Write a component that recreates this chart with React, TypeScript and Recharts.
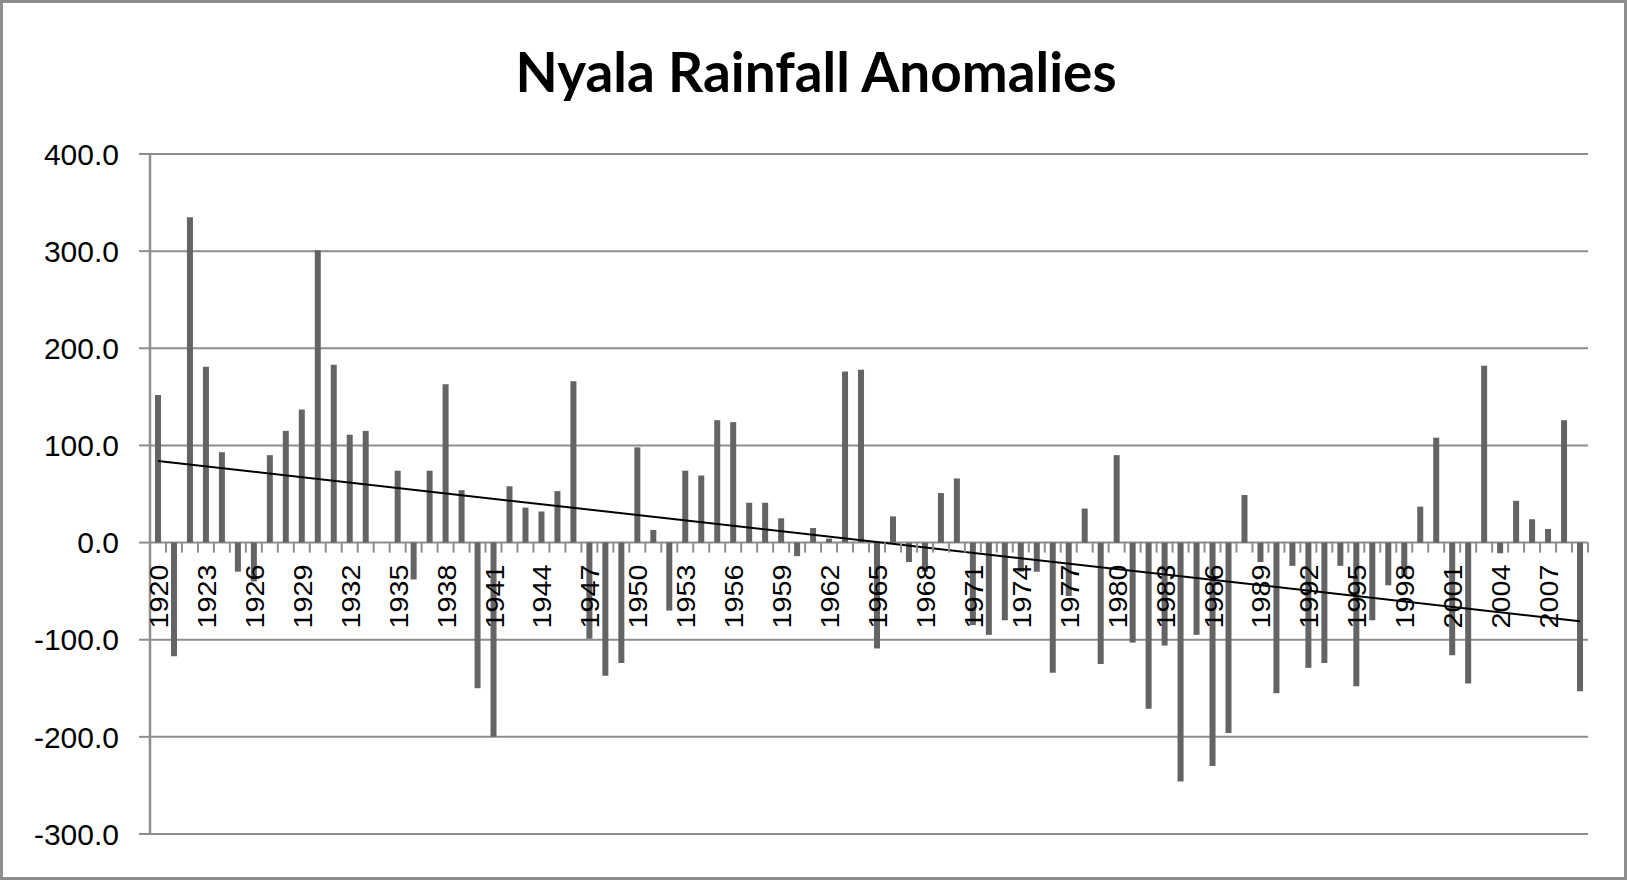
import { ComposedChart, Bar, Line, XAxis, YAxis, CartesianGrid, LabelList } from 'recharts';

// Years 1920..2009 (categories)
const years: string[] = Array.from({ length: 90 }, (_, i) => String(1920 + i));

// Rainfall anomaly per year
const anomalies: number[] = [
  152, -117, 335, 181, 93, -30, -40, 90, 115, 137,
  301, 183, 111, 115, 0, 74, -38, 74, 163, 54,
  -150, -200, 58, 36, 32, 53, 166, -99, -137, -124,
  98, 13, -70, 74, 69, 126, 124, 41, 41, 25,
  -14, 15, 4, 176, 178, -109, 27, -20, -30, 51,
  66, -85, -95, -80, -30, -30, -134, -55, 35, -125,
  90, -103, -171, -106, -246, -95, -230, -196, 49, -20,
  -155, -24, -129, -124, -24, -148, -80, -44, -35, 37,
  108, -116, -145, 182, -11, 43, 24, 14, 126, -153,
];

// Linear trend line end points as drawn in the reference
const trendStart = 84;
const trendEnd = -81;

const yTicks = [-300, -200, -100, 0, 100, 200, 300, 400];

const GRAY = '#8e8e8e';
const BAR = '#646464';

const W = 1627;
const H = 880;
const MARGIN = { top: 154, right: 39, bottom: 46, left: 0 };
const Y_AXIS_W = 150;
const halfBand = (W - MARGIN.left - MARGIN.right - Y_AXIS_W) / years.length / 2;

const chartData = years.map((year, i) => ({
  year,
  value: anomalies[i],
  base: 0,
  trend: i === 0 ? trendStart : i === years.length - 1 ? trendEnd : null,
}));

// category tick marks and rotated year labels sitting on the zero line
function AxisMark(props: any) {
  const { x, y, value } = props;
  if (x == null || y == null) return null;
  const index = years.indexOf(String(value));
  return (
    <g>
      <line x1={x + halfBand} y1={y} x2={x + halfBand} y2={y + 10} stroke={GRAY} strokeWidth={2} />
      {index % 3 === 0 && (
        <text
          transform={`translate(${x + 1},${y + 22}) rotate(-90)`}
          textAnchor="end"
          dominantBaseline="central"
          fontFamily="Liberation Sans, Arial, sans-serif"
          fontSize={25}
          textLength={64}
          lengthAdjust="spacingAndGlyphs"
          fill="#000"
        >
          {value}
        </text>
      )}
    </g>
  );
}

export default function App() {
  return (
    <div
      style={{
        position: 'absolute',
        left: 0,
        top: 0,
        width: W,
        height: H,
        boxSizing: 'border-box',
        border: `3px solid ${GRAY}`,
        background: '#fff',
        overflow: 'hidden',
      }}
    >
      <svg width={W} height={H} style={{ position: 'absolute', left: -3, top: -3, pointerEvents: 'none' }}>
        <text
          x={816}
          y={92}
          textAnchor="middle"
          fontFamily="Lato, 'Open Sans', sans-serif"
          fontWeight={700}
          fontSize={56}
          textLength={601}
          lengthAdjust="spacingAndGlyphs"
          fill="#000"
        >
          Nyala Rainfall Anomalies
        </text>
      </svg>
      <div style={{ position: 'absolute', left: -3, top: -3 }}>
        <ComposedChart width={W} height={H} data={chartData} margin={MARGIN}>
          <CartesianGrid vertical={false} stroke={GRAY} strokeWidth={2} />
          <XAxis dataKey="year" hide />
          <YAxis
            domain={[-300, 400]}
            ticks={yTicks}
            interval={0}
            width={Y_AXIS_W}
            tickFormatter={(v: number) => v.toFixed(1)}
            tick={{ fontSize: 30, fill: '#000', fontFamily: 'Liberation Sans, Arial, sans-serif' }}
            tickSize={11}
            tickMargin={20}
            axisLine={{ stroke: GRAY, strokeWidth: 2.5 }}
            tickLine={{ stroke: GRAY, strokeWidth: 2 }}
          />
          <Bar dataKey="value" fill={BAR} barSize={6} isAnimationActive={false} />
          <Line
            type="linear"
            dataKey="trend"
            stroke="#000"
            strokeWidth={2}
            dot={false}
            connectNulls
            isAnimationActive={false}
          />
          <Line dataKey="base" stroke="none" dot={false} activeDot={false} isAnimationActive={false}>
            <LabelList dataKey="year" content={<AxisMark />} />
          </Line>
        </ComposedChart>
      </div>
    </div>
  );
}
